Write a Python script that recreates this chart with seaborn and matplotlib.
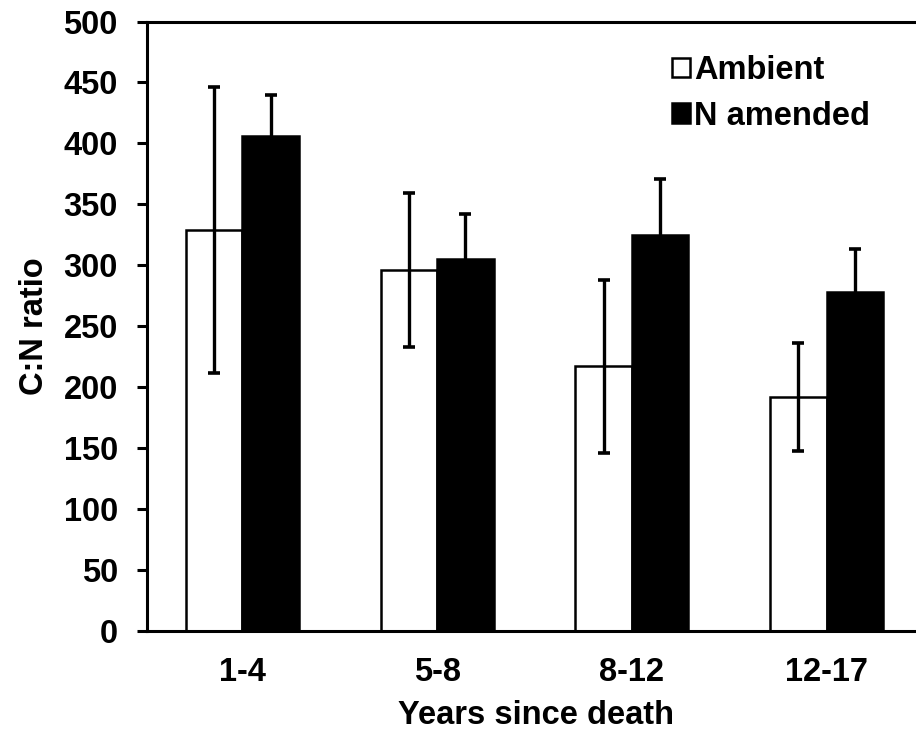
import matplotlib
matplotlib.use("Agg")
import matplotlib.pyplot as plt
from matplotlib.patches import Patch
import seaborn as sns
import pandas as pd

# C:N ratio of dead wood by time since death, ambient vs N-amended plots
categories = ["1-4", "5-8", "8-12", "12-17"]
treatments = ["Ambient", "N amended"]
ambient = [329, 296, 217, 192]
ambient_err = [117, 63, 71, 44]
n_amended = [406, 305, 325, 278]
n_amended_err = [34, 37, 46, 35]
y_ticks = [0, 50, 100, 150, 200, 250, 300, 350, 400, 450, 500]

sns.set_style("ticks")
plt.rcParams["font.family"] = ["Liberation Sans", "DejaVu Sans"]
plt.rcParams["font.weight"] = "bold"
plt.rcParams["axes.labelweight"] = "bold"
plt.rcParams["text.color"] = "black"
plt.rcParams["axes.labelcolor"] = "black"
plt.rcParams["xtick.color"] = "black"
plt.rcParams["ytick.color"] = "black"

FS = 23.5

df = pd.DataFrame({
    "years": categories * 2,
    "ratio": ambient + n_amended,
    "treatment": [treatments[0]] * 4 + [treatments[1]] * 4,
})

W, H = 916, 732
fig = plt.figure(figsize=(W / 100, H / 100), dpi=100)
ax = fig.add_axes([147 / W, 101 / H, 777 / W, 609.5 / H])

sns.barplot(
    data=df, x="years", y="ratio", hue="treatment",
    order=categories, hue_order=treatments,
    palette={"Ambient": "white", "N amended": "black"},
    edgecolor="black", linewidth=1.8, width=0.58,
    errorbar=None, legend=False, ax=ax, zorder=2,
)

# standard errors drawn over each bar
for container, errs in zip(ax.containers, [ambient_err, n_amended_err]):
    xs = [b.get_x() + b.get_width() / 2 for b in container]
    hs = [b.get_height() for b in container]
    ax.errorbar(xs, hs, yerr=errs, fmt="none", ecolor="black",
                elinewidth=2.4, capsize=4.4, capthick=2.6, zorder=3)

ax.set_xlim(-0.49, 3.5)
ax.set_ylim(0, 500)
ax.set_yticks(y_ticks)
ax.set_yticklabels([str(t) for t in y_ticks])

for side in ["left", "bottom", "top", "right"]:
    ax.spines[side].set_visible(True)
    ax.spines[side].set_linewidth(2.2)
    ax.spines[side].set_color("black")

ax.tick_params(axis="y", direction="out", length=7, width=2.2, pad=14,
               labelsize=FS, colors="black")
ax.tick_params(axis="x", length=0, pad=19, labelsize=FS, colors="black")

ax.set_xlabel("Years since death", fontsize=FS, fontweight="bold", labelpad=8)
ax.set_ylabel("C:N ratio", fontsize=FS, fontweight="bold", labelpad=10)

handles = [
    Patch(facecolor="white", edgecolor="black", linewidth=1.8),
    Patch(facecolor="black", edgecolor="black", linewidth=1.8),
]
ax.legend(
    handles, treatments, frameon=False, loc="upper left",
    bbox_to_anchor=(672 / W, 1 - 55 / H), bbox_transform=fig.transFigure,
    handlelength=0.55, handleheight=0.55, handletextpad=0.12,
    labelspacing=0.45, borderaxespad=0, borderpad=0,
    prop={"size": FS, "weight": "bold"},
)

fig.savefig("out.png", dpi=100)
